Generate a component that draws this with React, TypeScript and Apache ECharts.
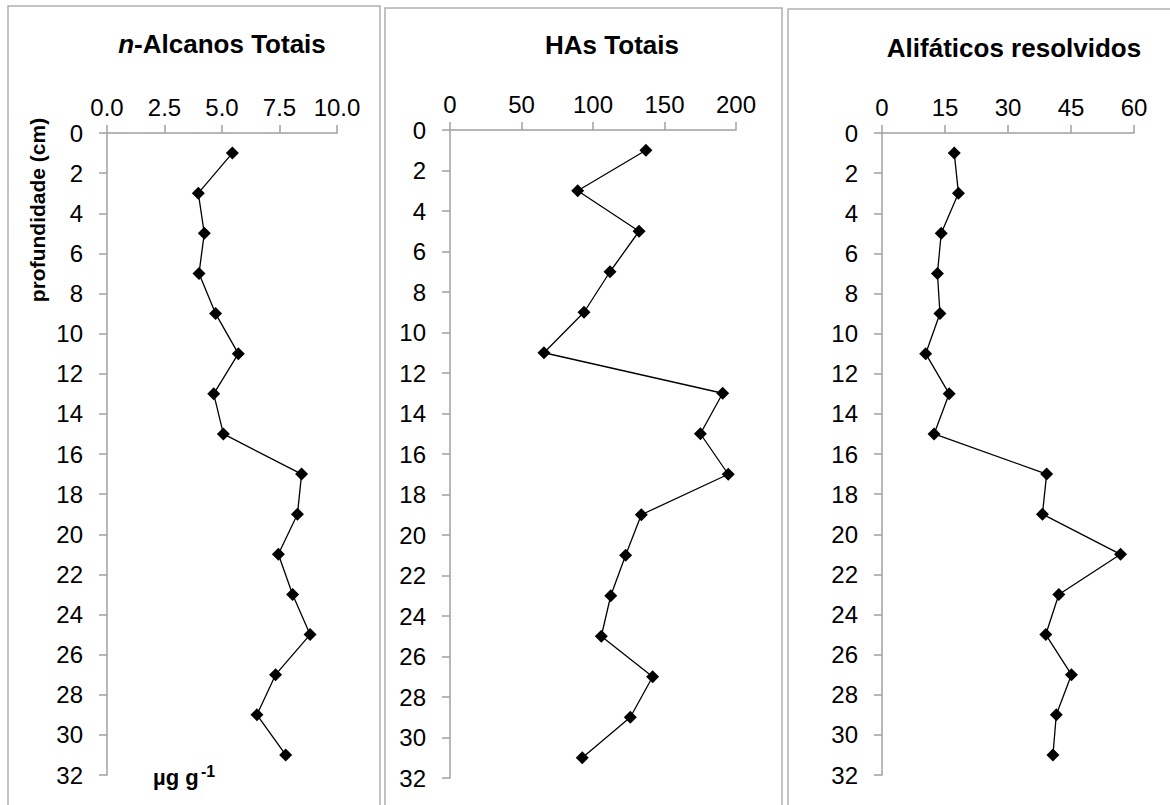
import React, { useEffect, useRef } from "react";
import * as echarts from "echarts";

const depths = [1, 3, 5, 7, 9, 11, 13, 15, 17, 19, 21, 23, 25, 27, 29, 31];
const alcanos = [5.45, 3.97, 4.23, 4.0, 4.72, 5.71, 4.64, 5.06, 8.46, 8.28, 7.45, 8.07, 8.83, 7.33, 6.52, 7.77];
const hasTotais = [137, 89.3, 132.2, 111.9, 93.7, 65.7, 190.7, 175.1, 194.6, 133.8, 122.8, 112.4, 105.8, 141.7, 126.1, 92.5];
const alifaticos = [17.2, 18.2, 14.1, 13.2, 13.8, 10.4, 16.0, 12.4, 39.2, 38.2, 56.8, 42.1, 39.0, 45.1, 41.5, 40.7];

const titles = ["n-Alcanos Totais", "HAs Totais", "Alifáticos resolvidos"];
const xRanges = [
  { min: 0, max: 10, interval: 2.5, decimals: 1 },
  { min: 0, max: 200, interval: 50, decimals: 0 },
  { min: 0, max: 60, interval: 15, decimals: 0 },
];
const yAxisName = "profundidade (cm)";
const unitMain = "µg g";
const unitSup = "-1";

const FONT = "'Liberation Sans', Arial, sans-serif";
const AXIS_GRAY = "#a0a0a0";

export default function App() {
  const ref = useRef<HTMLDivElement>(null);
  useEffect(() => {
    if (!ref.current) return;
    const chart = echarts.init(ref.current, null, { renderer: "svg" });
    const grids = [
      { left: 107, top: 133, width: 230, height: 642 },
      { left: 450, top: 130, width: 286, height: 648 },
      { left: 882, top: 133, width: 252, height: 642 },
    ];
    const seriesData = [alcanos, hasTotais, alifaticos];
    const option: any = {
      animation: false,
      backgroundColor: "#ffffff",
      grid: grids.map((g) => ({ ...g, containLabel: false })),
      xAxis: xRanges.map((r, i) => ({
        type: "value",
        gridIndex: i,
        position: "top",
        min: r.min,
        max: r.max,
        interval: r.interval,
        axisLine: { show: true, lineStyle: { color: AXIS_GRAY, width: 1.5 } },
        axisTick: { show: true, inside: false, length: 8, lineStyle: { color: AXIS_GRAY, width: 1.5 } },
        splitLine: { show: false },
        axisLabel: {
          color: "#000",
          fontSize: 24,
          fontFamily: FONT,
          margin: 14,
          formatter: (v: number) => v.toFixed(r.decimals),
        },
      })),
      yAxis: grids.map((_, i) => ({
        type: "value",
        gridIndex: i,
        inverse: true,
        min: 0,
        max: 32,
        interval: 2,
        axisLine: { show: true, lineStyle: { color: AXIS_GRAY, width: 1.5 } },
        axisTick: { show: true, inside: false, length: 8, lineStyle: { color: AXIS_GRAY, width: 1.5 } },
        splitLine: { show: false },
        axisLabel: { color: "#000", fontSize: 24, fontFamily: FONT, margin: 24 },
      })),
      series: seriesData.map((vals, i) => ({
        type: "line",
        xAxisIndex: i,
        yAxisIndex: i,
        data: vals.map((v, k) => [v, depths[k]]),
        symbol: "diamond",
        symbolSize: 13,
        itemStyle: { color: "#000" },
        lineStyle: { color: "#000", width: 1.3 },
        z: 3,
      })),
      graphic: [
        { type: "rect", shape: { x: 8, y: 6, width: 372, height: 900 }, style: { fill: "none", stroke: "#b0b0b0", lineWidth: 1.5 }, z: 0 },
        { type: "rect", shape: { x: 385, y: 8, width: 397, height: 900 }, style: { fill: "none", stroke: "#b0b0b0", lineWidth: 1.5 }, z: 0 },
        { type: "rect", shape: { x: 788, y: 9, width: 500, height: 900 }, style: { fill: "none", stroke: "#b0b0b0", lineWidth: 1.5 }, z: 0 },
        {
          type: "text",
          x: 222,
          y: 44,
          style: {
            text: "{i|n}{b|" + titles[0].slice(1) + "}",
            align: "center",
            verticalAlign: "middle",
            rich: {
              i: { fontStyle: "italic", fontWeight: "bold", fontSize: 26, fontFamily: FONT, fill: "#000" },
              b: { fontWeight: "bold", fontSize: 26, fontFamily: FONT, fill: "#000" },
            },
          },
        },
        {
          type: "text",
          x: 612,
          y: 45,
          style: { text: titles[1], align: "center", verticalAlign: "middle", fontWeight: "bold", fontSize: 26, fontFamily: FONT, fill: "#000" },
        },
        {
          type: "text",
          x: 1014,
          y: 48,
          style: { text: titles[2], align: "center", verticalAlign: "middle", fontWeight: "bold", fontSize: 26, fontFamily: FONT, fill: "#000" },
        },
        {
          type: "text",
          x: 37,
          y: 210,
          rotation: Math.PI / 2,
          style: { text: yAxisName, align: "center", verticalAlign: "middle", fontWeight: "bold", fontSize: 21, fontFamily: FONT, fill: "#000" },
        },
        {
          type: "text",
          x: 153,
          y: 777,
          style: { text: unitMain, align: "left", verticalAlign: "middle", fontWeight: "bold", fontSize: 22, fontFamily: FONT, fill: "#000" },
        },
        {
          type: "text",
          x: 201,
          y: 771,
          style: { text: unitSup, align: "left", verticalAlign: "middle", fontWeight: "bold", fontSize: 16, fontFamily: FONT, fill: "#000" },
        },
      ],
    };
    chart.setOption(option);
    return () => chart.dispose();
  }, []);
  return (
    <div
      ref={ref}
      style={{ position: "absolute", left: 0, top: 0, width: 1170, height: 805, background: "#fff" }}
    />
  );
}
